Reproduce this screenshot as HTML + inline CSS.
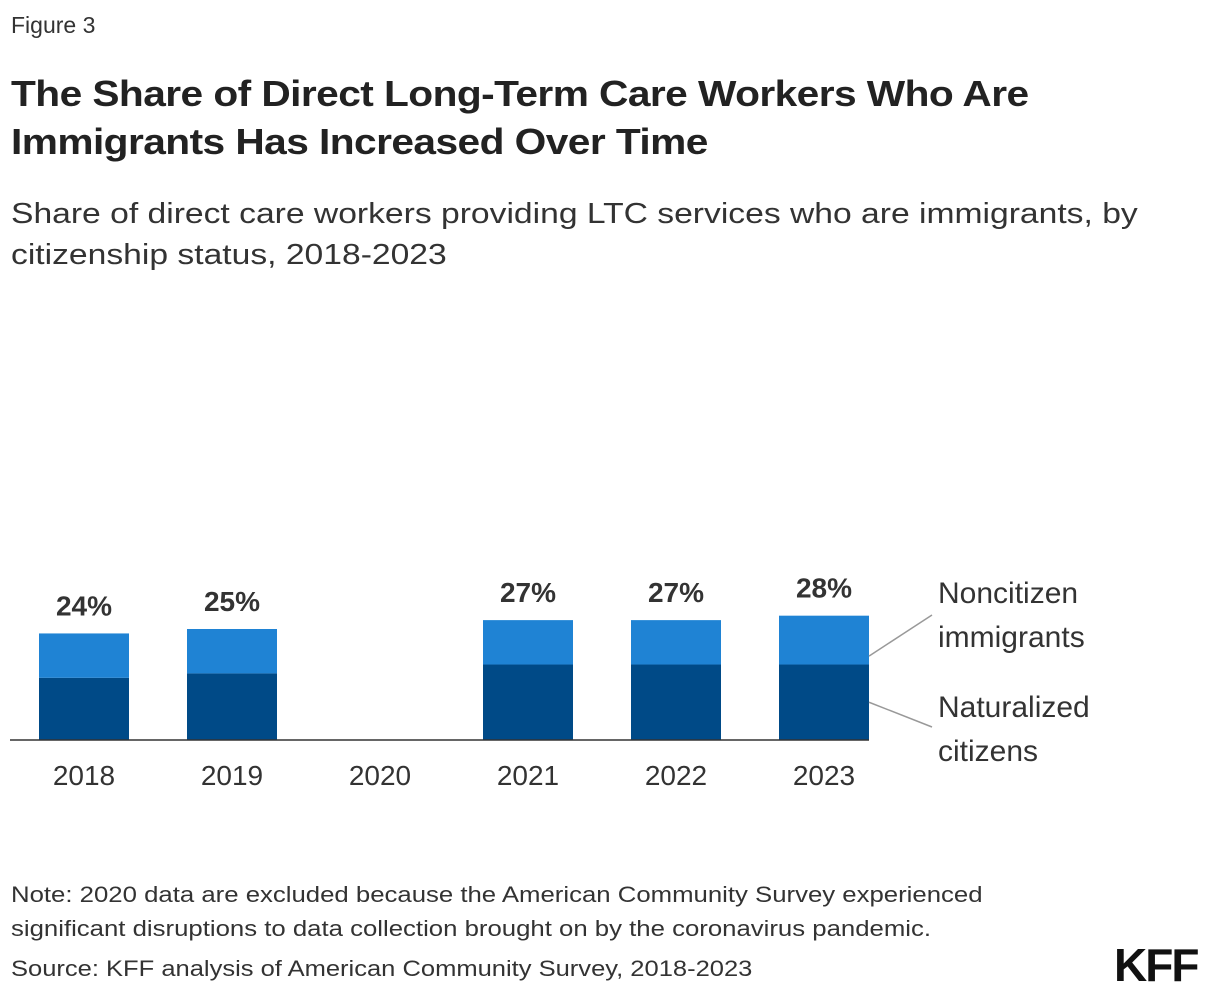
<!DOCTYPE html>
<html><head><meta charset="utf-8"><style>
body{margin:0;width:1220px;height:998px;background:#fff;font-family:"Liberation Sans",sans-serif;color:#222;position:relative;overflow:hidden}
.t{position:absolute;left:11px;white-space:nowrap;transform-origin:0 0}
</style></head><body>
<div class="t" style="top:12px;font-size:23px;color:#333">Figure 3</div>
<div class="t" style="top:70px;font-size:36px;font-weight:bold;line-height:48px;letter-spacing:-0.5px;transform:scaleX(1.13)">The Share of Direct Long-Term Care Workers Who Are<br>Immigrants Has Increased Over Time</div>
<div class="t" style="top:194px;font-size:29px;line-height:41px;color:#333;transform:scaleX(1.16)">Share of direct care workers providing LTC services who are immigrants, by<br>citizenship status, 2018-2023</div>
<svg id="chart" width="1220" height="998" style="position:absolute;left:0;top:0" font-family="Liberation Sans, sans-serif"></svg>
<div class="t" style="top:878px;font-size:22px;line-height:34px;color:#333;transform:scaleX(1.17)">Note: 2020 data are excluded because the American Community Survey experienced<br>significant disruptions to data collection brought on by the coronavirus pandemic.</div>
<div class="t" style="top:956px;font-size:22px;color:#333;transform:scaleX(1.16)">Source: KFF analysis of American Community Survey, 2018-2023</div>
<div style="position:absolute;left:1114px;top:938px;font-size:46px;font-weight:bold;letter-spacing:-2px;color:#111">KFF</div>
<script>
const years=["2018","2019","2020","2021","2022","2023"];
const naturalized=[14,15,null,17,17,17];
const noncitizen=[10,10,null,10,10,11];
const totals=["24%","25%",null,"27%","27%","28%"];
const svg=document.getElementById('chart');const NS="http://www.w3.org/2000/svg";
const base=740,pxPer=4.44,x0=39,step=148,bw=90;
const y=v=>base-v*pxPer;const xs=i=>x0+i*step;
function mk(t,a){const e=document.createElementNS(NS,t);for(const k in a)e.setAttribute(k,a[k]);svg.appendChild(e);return e;}
years.forEach((yr,i)=>{
 if(naturalized[i]!=null){
  const r1=mk('rect',{x:xs(i),y:y(naturalized[i]),width:bw,height:naturalized[i]*pxPer,fill:'#004a87'});
  
  
  const tot=naturalized[i]+noncitizen[i];
  const r2=mk('rect',{x:xs(i),y:y(tot),width:bw,height:noncitizen[i]*pxPer,fill:'#1f83d4'});
  
  
  const l=mk('text',{x:xs(i)+bw/2,y:y(tot)-18,'text-anchor':'middle','font-size':28,'font-weight':'bold',fill:'#333'});
  l.textContent=totals[i];
  
  
 }
 const t=mk('text',{x:xs(i)+bw/2,y:785,'text-anchor':'middle','font-size':28,fill:'#333'});
 t.textContent=yr;
 
 
});
const ax=mk('line',{x1:10,x2:869,y1:base,y2:base,stroke:'#333','stroke-width':1.5});


const last=years.length-1,lt=naturalized[last]+noncitizen[last];
const l1=mk('line',{x1:869,y1:(y(lt)+y(naturalized[last]))/2+16,x2:932,y2:615,stroke:'#999','stroke-width':1.5});


const l2=mk('line',{x1:869,y1:(y(naturalized[last])+base)/2,x2:932,y2:727,stroke:'#999','stroke-width':1.5});


[["Noncitizen",603],["immigrants",647],["Naturalized",717],["citizens",761]].forEach((p,k)=>{
 const t=mk('text',{x:938,y:p[1],'font-size':30,fill:'#333'});t.textContent=p[0];
 
 
});
</script>
</body></html>
